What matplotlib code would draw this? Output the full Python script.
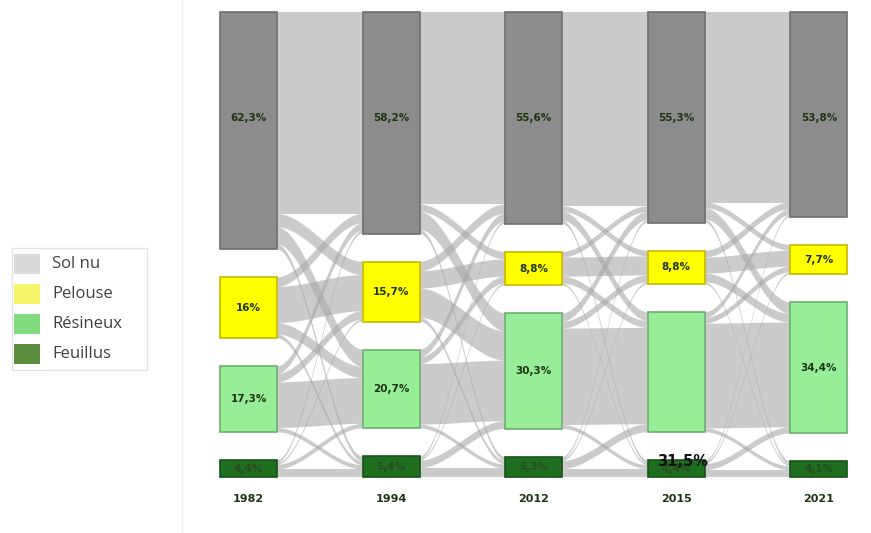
import numpy as np
import matplotlib.pyplot as plt
from matplotlib.patches import Rectangle, Polygon

# Land cover shares (%) per survey year
years = ["1982", "1994", "2012", "2015", "2021"]
categories = ["Sol nu", "Pelouse", "Résineux", "Feuillus"]
shares_1982 = [62.3, 16.0, 17.3, 4.4]
shares_1994 = [58.2, 15.7, 20.7, 5.4]
shares_2012 = [55.6, 8.8, 30.3, 5.3]
shares_2015 = [55.3, 8.8, 31.5, 4.4]
shares_2021 = [53.8, 7.7, 34.4, 4.1]
shares = [shares_1982, shares_1994, shares_2012, shares_2015, shares_2021]

# Transitions between consecutive years (rows = from, cols = to), estimated
flows_1982_1994 = [[53.0, 3.5, 4.5, 1.3],
                   [2.5, 9.5, 3.0, 1.0],
                   [2.0, 2.2, 12.0, 1.1],
                   [0.7, 0.5, 1.2, 2.0]]
flows_1994_2012 = [[50.5, 2.0, 4.7, 1.0],
                   [2.5, 4.5, 7.7, 1.0],
                   [2.0, 1.8, 15.9, 1.0],
                   [0.6, 0.5, 2.0, 2.3]]
flows_2012_2015 = [[51.0, 1.5, 2.3, 0.8],
                   [1.5, 5.0, 1.8, 0.5],
                   [2.2, 1.8, 25.3, 1.0],
                   [0.6, 0.5, 2.1, 2.1]]
flows_2015_2021 = [[50.0, 1.5, 3.0, 0.8],
                   [1.8, 4.2, 2.3, 0.5],
                   [1.5, 1.5, 27.5, 1.0],
                   [0.5, 0.5, 1.6, 1.8]]
flows = [flows_1982_1994, flows_1994_2012, flows_2012_2015, flows_2015_2021]

node_colors = ["#8c8c8c", "#ffff00", "#98ee98", "#1f6e1f"]
edge_colors = ["#6f6f6f", "#c9b800", "#6fae6f", "#165216"]
legend_colors = ["#dadada", "#f6f56b", "#80dc7f", "#5b8e3e"]
text_green = "#1d3512"

W, H = 871, 533
fig = plt.figure(figsize=(W / 100, H / 100), dpi=100)
ax = fig.add_axes([0, 0, 1, 1])
ax.set_xlim(0, W)
ax.set_ylim(H, 0)
ax.axis("off")

# layout (pixels)
x_first, x_step, node_w = 220, 142.6, 57
top, bottom, gap = 12, 477, 28
scale = (bottom - top - 3 * gap) / 100.0

col_x = [x_first + i * x_step for i in range(len(years))]

# node vertical extents
nodes = []
for vals in shares:
    y = top
    col = []
    for v in vals:
        h = v * scale
        col.append((y, y + h))
        y += h + gap
    nodes.append(col)


def band(x0, x1, ya0, ya1, yb0, yb1, n=60):
    t = np.linspace(0, 1, n)
    xs = x0 + (x1 - x0) * t
    s = 3 * t ** 2 - 2 * t ** 3
    top_y = ya0 + (yb0 - ya0) * s
    bot_y = ya1 + (yb1 - ya1) * s
    return np.concatenate([np.column_stack([xs, top_y]),
                           np.column_stack([xs[::-1], bot_y[::-1]])])


# links
for p, mat in enumerate(flows):
    src, dst = nodes[p], nodes[p + 1]
    out_off = [s[0] for s in src]
    in_off = [d[0] for d in dst]
    x0 = col_x[p] + node_w
    x1 = col_x[p + 1]
    for i in range(4):
        for j in range(4):
            h = mat[i][j] * scale
            pts = band(x0, x1, out_off[i], out_off[i] + h, in_off[j], in_off[j] + h)
            ax.add_patch(Polygon(pts, closed=True, facecolor="#a9a9a9",
                                 edgecolor="none", alpha=0.6, zorder=1))
            out_off[i] += h
            in_off[j] += h

# nodes + labels
for c, col in enumerate(nodes):
    xc = col_x[c] + node_w / 2
    for k, (y0, y1) in enumerate(col):
        ax.add_patch(Rectangle((col_x[c], y0), node_w, y1 - y0,
                               facecolor=node_colors[k], edgecolor=edge_colors[k],
                               linewidth=1.2, zorder=3))
        v = shares[c][k]
        txt = f"{v:g}".replace(".", ",") + "%"
        if years[c] == "2015" and categories[k] == "Résineux":
            # label ended up drawn over the Feuillus node in the source
            yf = (col[3][0] + col[3][1]) / 2
            ax.text(xc + 6, yf - 7, txt, ha="center", va="center", fontsize=10.5,
                    fontweight="bold", color="#111111", zorder=6)
            continue
        fc = "#2b4a1e" if k == 3 else text_green
        yl = (y0 + y1) / 2 if k else 118
        ax.text(xc, yl, txt, ha="center", va="center", fontsize=7.5,
                fontweight="bold", color=fc, zorder=5)
    ax.text(xc, 499, years[c], ha="center", va="center", fontsize=8,
            fontweight="bold", color=text_green)

# faint panel separator
ax.plot([182, 182], [0, H], color="#eeeeee", linewidth=1, zorder=0)

# legend box
ax.add_patch(Rectangle((12, 248), 135, 122, facecolor="white",
                       edgecolor="#e3e3e3", linewidth=1, zorder=2))
for k, name in enumerate(categories):
    yc = 264 + 30 * k
    ax.add_patch(Rectangle((14, yc - 10), 26, 20, facecolor=legend_colors[k],
                           edgecolor="none", zorder=3))
    ax.text(52, yc, name, ha="left", va="center", fontsize=12,
            family="Open Sans", color="#404040", zorder=3)

fig.savefig("out.png", dpi=100)
